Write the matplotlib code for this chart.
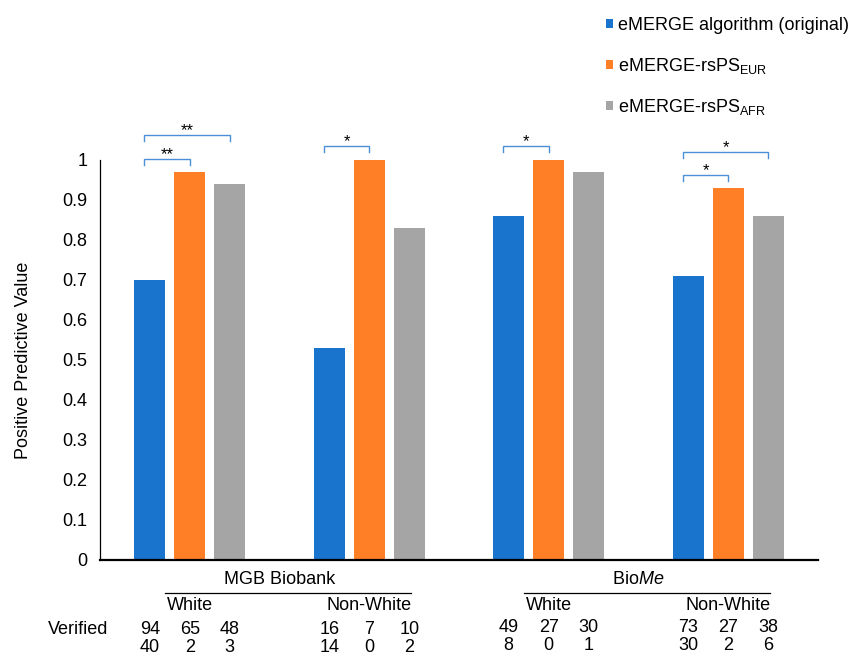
import numpy as np
import matplotlib
matplotlib.use('Agg')
import matplotlib.pyplot as plt
from matplotlib.transforms import blended_transform_factory

plt.rcParams['font.family'] = ['Liberation Sans', 'DejaVu Sans']
plt.rcParams['mathtext.fontset'] = 'custom'
plt.rcParams['mathtext.rm'] = 'Liberation Sans'
plt.rcParams['mathtext.it'] = 'Liberation Sans:italic'

# data
series = ['eMERGE algorithm (original)',
          r'eMERGE-rsPS$_{\mathrm{EUR}}$',
          r'eMERGE-rsPS$_{\mathrm{AFR}}$']
ppv_original = [0.70, 0.53, 0.86, 0.71]
ppv_eur      = [0.97, 1.00, 1.00, 0.93]
ppv_afr      = [0.94, 0.83, 0.97, 0.86]
subgroups    = ['White', 'Non-White', 'White', 'Non-White']
cohorts      = ['MGB Biobank', r'Bio$\it{Me}$']
verified     = [[94, 65, 48], [16, 7, 10], [49, 27, 30], [73, 27, 38]]
not_verified = [[40, 2, 3], [14, 0, 2], [8, 0, 1], [30, 2, 6]]
# significance brackets: (group, from series, to series, label)
sig_pairs  = [(0, 0, 1, '**'), (0, 0, 2, '**'), (1, 0, 1, '*'),
              (2, 0, 1, '*'), (3, 0, 1, '*'), (3, 0, 2, '*')]
sig_levels = [1.0025, 1.0625, 1.035, 1.035, 0.9625, 1.02]

colors = ['#1874CD', '#FF7F27', '#A5A5A5']
fs = 13

fig = plt.figure(figsize=(8.54, 6.57), dpi=100)
ax = fig.add_axes([100/854, 1-560/657, 718/854, 400/657])

x = np.arange(len(ppv_original))
off = 0.223
w = 0.173
handles = []
for i, vals in enumerate([ppv_original, ppv_eur, ppv_afr]):
    b = ax.bar(x + (i-1)*off, vals, width=w, color=colors[i], label=series[i])
    handles.append(b)

ax.set_xlim(-0.5, 3.5)
ax.set_ylim(0, 1)
ax.set_yticks(np.arange(0, 1.01, 0.1))
ax.set_yticklabels(['0', '0.1', '0.2', '0.3', '0.4', '0.5', '0.6', '0.7', '0.8', '0.9', '1'])
ax.set_xticks([])
ax.tick_params(axis='y', length=0, pad=9, labelsize=fs)
for s in ['top', 'right']:
    ax.spines[s].set_visible(False)
ax.spines['left'].set_linewidth(0.9)
ax.spines['bottom'].set_linewidth(1.6)
ax.text(-0.106, 0.5, 'Positive Predictive Value', transform=ax.transAxes,
        rotation=90, ha='center', va='center', fontsize=fs)

# significance brackets
bc = '#4A90D9'
for (g, a, b, lab), lev in zip(sig_pairs, sig_levels):
    x0 = g + (a-1)*off - 0.03
    x1 = g + (b-1)*off
    ax.plot([x0, x0, x1, x1], [lev-0.015, lev, lev, lev-0.015], color=bc,
            lw=1, clip_on=False, solid_joinstyle='miter')
    ax.text((x0+x1)/2, lev+0.0, lab, ha='center', va='baseline',
            fontsize=12, clip_on=False)

# table under the chart
tr = blended_transform_factory(ax.transData, fig.transFigure)
def fy(py):
    return 1 - py/657

for c, cname in enumerate(cohorts):
    cx = 2*c + 0.5
    ax.text(cx, fy(580), cname, transform=tr, ha='center', va='center', fontsize=fs)
    ax.plot([cx-0.64, cx+0.73], [fy(593), fy(593)], transform=tr, color='black',
            lw=0.9, clip_on=False)
for g, sg in enumerate(subgroups):
    ax.text(g, fy(606), sg, transform=tr, ha='center', va='center', fontsize=fs)
    r1 = 630 if g < 2 else 628
    for i in range(3):
        ax.text(g + (i-1)*off, fy(r1), str(verified[g][i]), transform=tr,
                ha='center', va='center', fontsize=fs)
        ax.text(g + (i-1)*off, fy(r1+17), str(not_verified[g][i]), transform=tr,
                ha='center', va='center', fontsize=fs)
fig.text(78/854, fy(630), 'Verified', ha='center', va='center', fontsize=fs)

fig.legend(handles=handles, labels=series, loc='upper left',
           bbox_to_anchor=(606/854, 1-17/657), frameon=False, fontsize=fs,
           handlelength=0.4, handleheight=0.4, handletextpad=0.25,
           labelspacing=1.2, borderpad=0, borderaxespad=0)

fig.savefig('out.png', dpi=100)
